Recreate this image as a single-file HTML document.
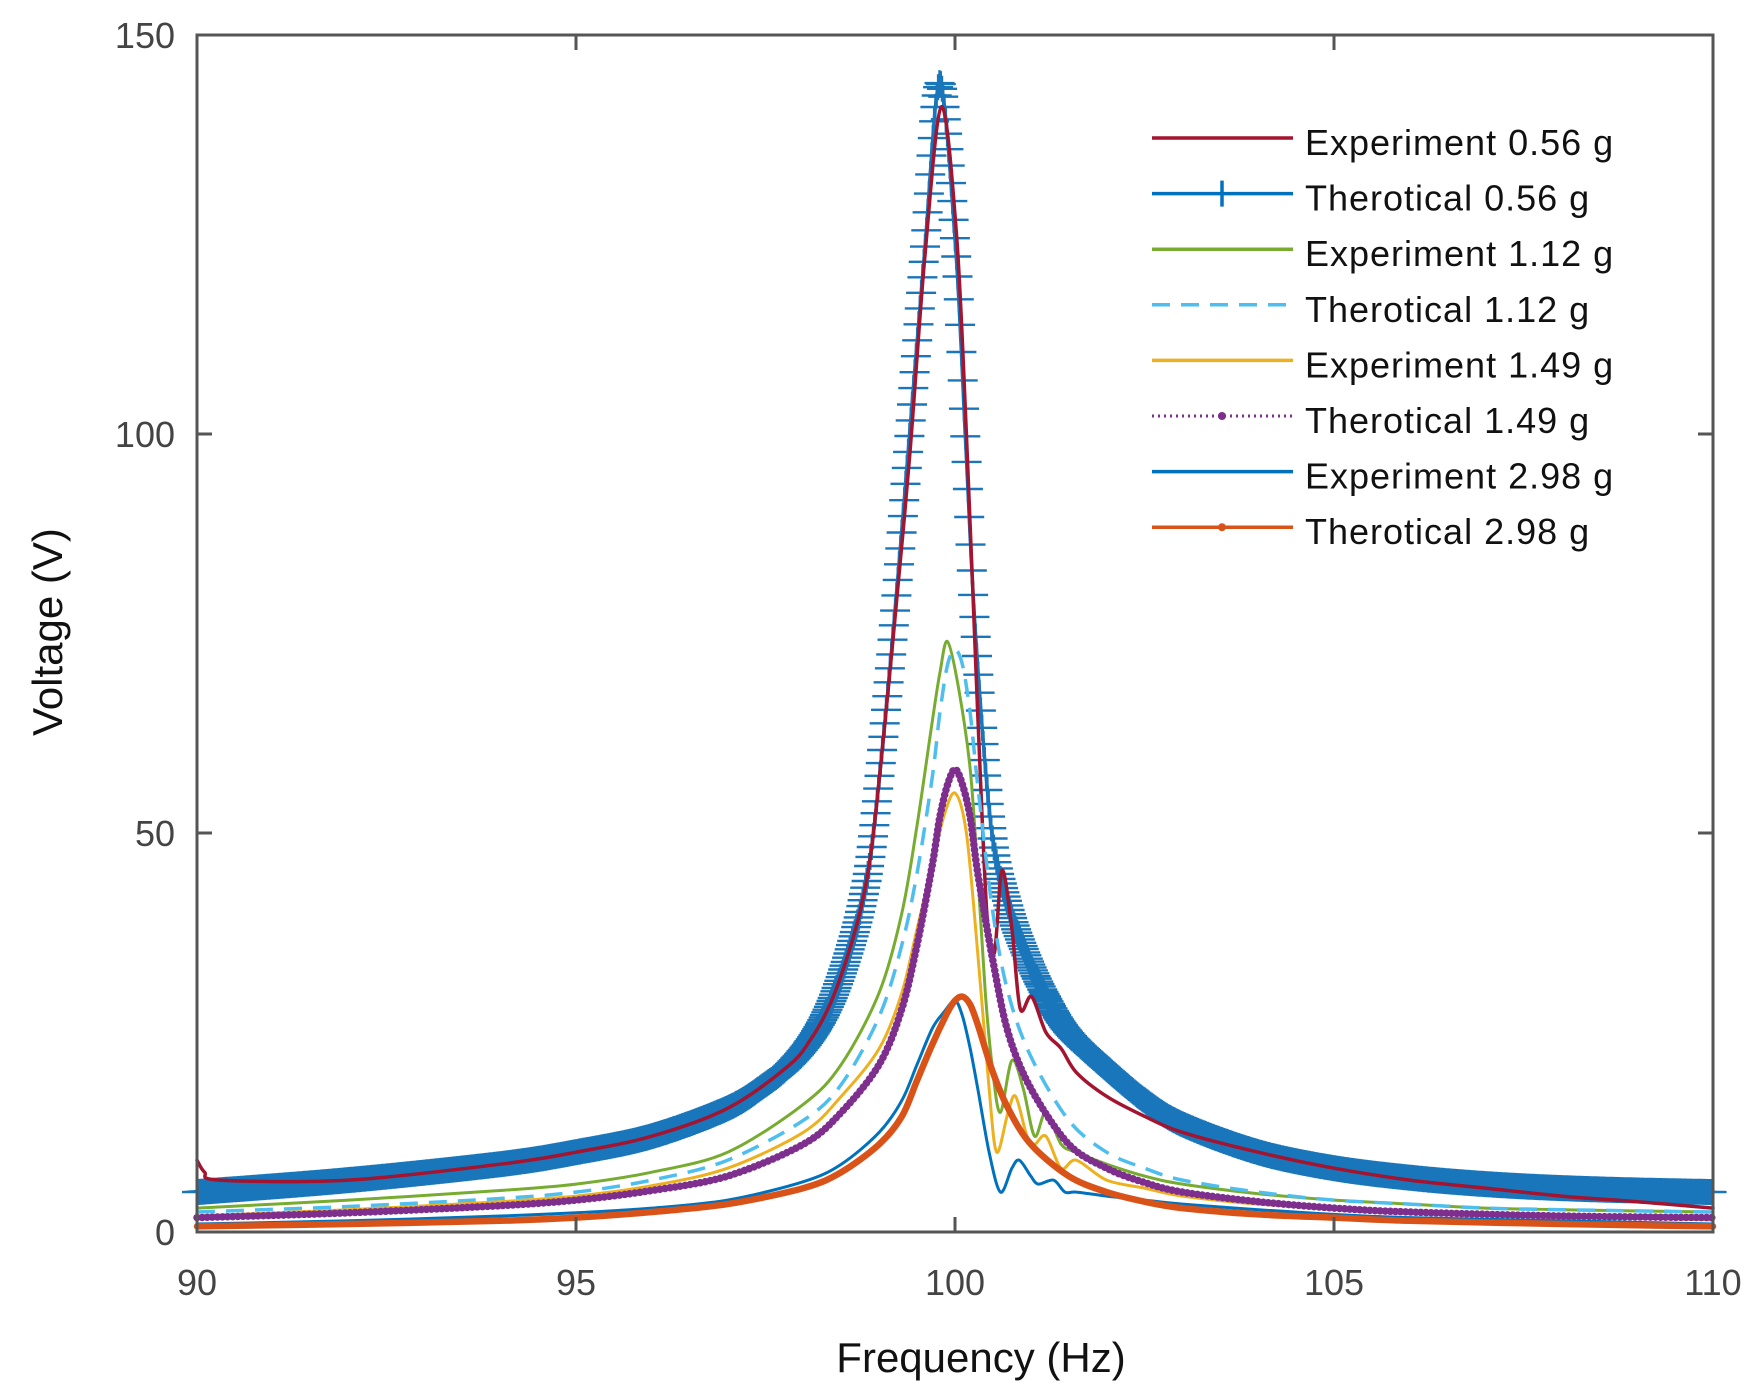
<!DOCTYPE html>
<html><head><meta charset="utf-8"><style>
html,body{margin:0;padding:0;background:#fff;}
svg{display:block;font-family:"Liberation Sans",sans-serif;}
</style></head><body>
<svg id="chart" width="1760" height="1400" viewBox="0 0 1760 1400" xmlns="http://www.w3.org/2000/svg">
<rect width="1760" height="1400" fill="#fff"/>
<g id="series"></g>
<g id="axes"></g>
<g id="legend"></g>
</svg>
<script>
const xTicks = [90, 95, 100, 105, 110];
const yTicks = [0, 50, 100, 150];

const theo056F = [90,92,94,95,96,97,97.5,97.8,98.1,98.35,98.58,98.78,98.93,99.18,99.39,99.6,99.8,100.01,100.14,100.27,100.48,100.7,100.95,101.2,101.5,102,102.5,103,104,105,106,107,108,109,110];
const theo056V = [5,6.5,8.5,10,12,15.5,18.5,20.8,24.2,28.5,34.5,41.5,50.5,74.6,98.8,123,144,123,99,75,50.5,41,34.5,29.5,25,20.5,16.5,13.5,10,8,6.8,6,5.5,5.2,5];

const exp056F = [90,90.1,90.3,92,94,95,96,97,97.8,98.1,98.35,98.58,98.78,98.93,99.18,99.4,99.6,99.82,100.02,100.15,100.3,100.42,100.52,100.62,100.75,100.86,101.01,101.2,101.4,101.6,102,102.5,103,104,105,106,107,108,109,110];
const exp056V = [9,7.5,6.5,6.5,8.5,10,12,15.5,20.8,24.2,28.5,34.5,41.5,50.5,74,97,122,141,125,100,65,40,35,45.3,38,28,29.5,25,23,20,17,14.5,12.5,10,8,6.5,5.5,4.5,3.8,3];

const exp112F = [90,92,94,95,96,97,98,98.5,99,99.3,99.5,99.7,99.8,99.9,100.05,100.2,100.3,100.4,100.5,100.6,100.75,100.9,101.05,101.2,101.4,101.6,102,102.5,103,104,105,106,107,108,110];
const exp112V = [3,4,5.2,6,7.5,10,16,21,30,40,51,64,70,74,68,58,45,30,20,15,21.5,18,12,15,11,10,8.5,7,6,4.8,4,3.5,3,2.8,2.5];

const theo112F = [90,92,94,95,96,97,98,98.5,99,99.3,99.5,99.7,99.8,99.9,100,100.1,100.2,100.3,100.5,100.7,101,101.5,102,102.5,103,104,105,106,107,108,110];
const theo112V = [2.5,3.2,4.2,5,6.5,9,14,18.5,27,36,45,57,65,71,73,71,65,56,40,30,22,14,10,8,6.5,5,4,3.5,3,2.8,2.5];

const exp149F = [90,92,94,95,96,97,98,98.5,99,99.3,99.5,99.7,99.85,100,100.15,100.3,100.45,100.55,100.7,100.8,100.95,101.05,101.2,101.4,101.6,102,102.5,103,104,105,106,108,110];
const exp149V = [2,2.8,3.8,4.5,5.8,8,12.5,17,23,30,38,46,52,55,50,35,18,10,15,17,12,11,12,8,9,6.5,5.5,4.5,3.5,3,2.5,2,1.5];

const theo149F = [90,92,94,95,96,97,98,98.5,99,99.3,99.5,99.7,99.8,99.9,100,100.1,100.2,100.3,100.5,100.7,101,101.5,102,102.5,103,104,105,106,108,110];
const theo149V = [1.8,2.4,3.3,4,5.2,7,11,15,21,28,36,46,52,56,58,56,52,45,34,25,18,11,8,6.2,5,3.8,3,2.5,2,1.8];

const exp298F = [90,92,94,95,96,97,98,98.5,99,99.3,99.5,99.7,99.85,100,100.1,100.2,100.3,100.45,100.6,100.75,100.85,101,101.1,101.3,101.45,101.6,102,102.5,103,104,105,106,108,110];
const exp298V = [1,1.4,2,2.4,3,4,6.3,8.5,12.5,16.5,21,25.5,27.5,29,27,23,18,10,5,8,9,7,6,6.5,5,5,4.5,4,3.5,2.8,2.2,1.8,1.4,1];

const theo298F = [90,92,94,95,96,97,98,98.5,99,99.3,99.5,99.7,99.9,100,100.1,100.2,100.3,100.5,100.7,101,101.5,102,102.5,103,104,105,106,108,110];
const theo298V = [0.7,1,1.4,1.8,2.5,3.5,5.5,7.5,11,14.5,19,23.5,27.5,29,29.5,28.5,26,20,15.5,11,7,5,3.8,3,2.2,1.8,1.4,1,0.7];

const legendLabels = ["Experiment 0.56 g","Therotical 0.56 g","Experiment 1.12 g","Therotical 1.12 g","Experiment 1.49 g","Therotical 1.49 g","Experiment 2.98 g","Therotical 2.98 g"];

const PL = 197, PR = 1713, PT = 35, PB = 1232;
function xs(v){ return PL + (v - 90) / 20 * (PR - PL); }
function ys(v){ return PB - v / 150 * (PB - PT); }
const NS = "http://www.w3.org/2000/svg";
function mk(tag, attrs, parent){
  const e = document.createElementNS(NS, tag);
  for (const k in attrs) e.setAttribute(k, attrs[k]);
  parent.appendChild(e);
  return e;
}
function smoothPath(F, V){
  const p = F.map((f,i)=>[xs(f), ys(V[i])]);
  let d = "M" + p[0][0].toFixed(1) + "," + p[0][1].toFixed(1);
  for (let i=0;i<p.length-1;i++){
    const p0 = p[i-1]||p[i], p1=p[i], p2=p[i+1], p3=p[i+2]||p2;
    const t = 0.16;
    const c1 = [p1[0]+(p2[0]-p0[0])*t, p1[1]+(p2[1]-p0[1])*t];
    const c2 = [p2[0]-(p3[0]-p1[0])*t, p2[1]-(p3[1]-p1[1])*t];
    d += "C"+c1[0].toFixed(1)+","+c1[1].toFixed(1)+" "+c2[0].toFixed(1)+","+c2[1].toFixed(1)+" "+p2[0].toFixed(1)+","+p2[1].toFixed(1);
  }
  return d;
}
const sg = document.getElementById("series");

// Theoretical 0.56 g: line + '+' markers at uniform frequency steps
const t056 = mk("path", {d: smoothPath(theo056F, theo056V), fill:"none", stroke:"#0072bd", "stroke-width":3.5}, sg);


const mg = mk("g", {stroke:"#1a76ba", "stroke-width":2.4}, sg);


const L = t056.getTotalLength();
let md = "";
let nextX = xs(90);
const stepX = 1.3;
for (let s=0; s<=L; s+=0.4){
  const pt = t056.getPointAtLength(s);
  if (pt.x >= nextX){
    md += "M"+(pt.x-15).toFixed(1)+","+pt.y.toFixed(1)+"h30M"+pt.x.toFixed(1)+","+(pt.y-13).toFixed(1)+"v26";
    nextX += stepX;
  }
}
mk("path", {d: md, fill:"none"}, mg);

function series(F, V, color, width, name, extra){
  const a = Object.assign({d: smoothPath(F,V), fill:"none", stroke:color, "stroke-width":width, "stroke-linejoin":"round", "stroke-linecap":"round"}, extra||{});
  const e = mk("path", a, sg);
  
  
  return e;
}
series(exp056F, exp056V, "#a2142f", 3.5, "experiment-0.56g-line");
series(exp112F, exp112V, "#77ac30", 3, "experiment-1.12g-line");
series(theo112F, theo112V, "#4dbeee", 3.5, "theoretical-1.12g-line", {"stroke-dasharray":"18 11","stroke-linecap":"butt"});
series(exp149F, exp149V, "#edb120", 3, "experiment-1.49g-line");
series(theo149F, theo149V, "#7e2f8e", 7.5, "theoretical-1.49g-line", {"stroke-dasharray":"0.1 5"});
series(exp298F, exp298V, "#0072bd", 3, "experiment-2.98g-line");
series(theo298F, theo298V, "#d95319", 6.5, "theoretical-2.98g-line");

// Axes
const ag = document.getElementById("axes");
const box = mk("rect", {x:PL, y:PT, width:PR-PL, height:PB-PT, fill:"none", stroke:"#555", "stroke-width":3}, ag);


xTicks.forEach(v=>{
  const x = xs(v);
  const t = mk("path", {d:`M${x},${PB}v-15M${x},${PT}v15`, stroke:"#555", "stroke-width":3}, ag);
  
  
  const tx = mk("text", {x:x, y:PB+63, "text-anchor":"middle", "font-size":36, fill:"#444"}, ag);
  tx.textContent = v;
  
  
});
yTicks.forEach(v=>{
  const y = ys(v);
  const t = mk("path", {d:`M${PL},${y}h15M${PR},${y}h-15`, stroke:"#555", "stroke-width":3}, ag);
  
  
  const tx = mk("text", {x:PL-22, y:y+13, "text-anchor":"end", "font-size":36, fill:"#444"}, ag);
  tx.textContent = v;
  
  
});
const xl = mk("text", {x:981, y:1372, "text-anchor":"middle", "font-size":42, fill:"#111"}, ag);
xl.textContent = "Frequency (Hz)";


const yl = mk("text", {x:0, y:0, "text-anchor":"middle", "font-size":42, fill:"#111", transform:"translate(62,632) rotate(-90)"}, ag);
yl.textContent = "Voltage (V)";



// Legend
const lg = document.getElementById("legend");
const legStyles = [
  {c:"#a2142f", w:3.5},
  {c:"#0072bd", w:3.5, tick:true},
  {c:"#77ac30", w:3.5},
  {c:"#4dbeee", w:3.5, dash:"18 11"},
  {c:"#edb120", w:3.5},
  {c:"#7e2f8e", w:3, dash:"2 4", dot:true},
  {c:"#0072bd", w:3.5},
  {c:"#d95319", w:3.5, dot:true}
];
const legY0 = 138, legDy = 55.6;
legendLabels.forEach((lab,i)=>{
  const st = legStyles[i];
  const y = legY0 + i*legDy;
  const g = mk("g", {}, lg);
  
  
  const a = {d:`M1152,${y}H1293`, stroke:st.c, "stroke-width":st.w, fill:"none"};
  if (st.dash) a["stroke-dasharray"] = st.dash;
  mk("path", a, g);
  if (st.tick) mk("path", {d:`M1222,${y-13}v26`, stroke:st.c, "stroke-width":3.5}, g);
  if (st.dot) mk("circle", {cx:1222, cy:y, r:4, fill:st.c}, g);
  const t = mk("text", {x:1305, y:y+17, "font-size":36, "letter-spacing":1, fill:"#111"}, g);
  t.textContent = lab;
});
</script>
</body></html>
